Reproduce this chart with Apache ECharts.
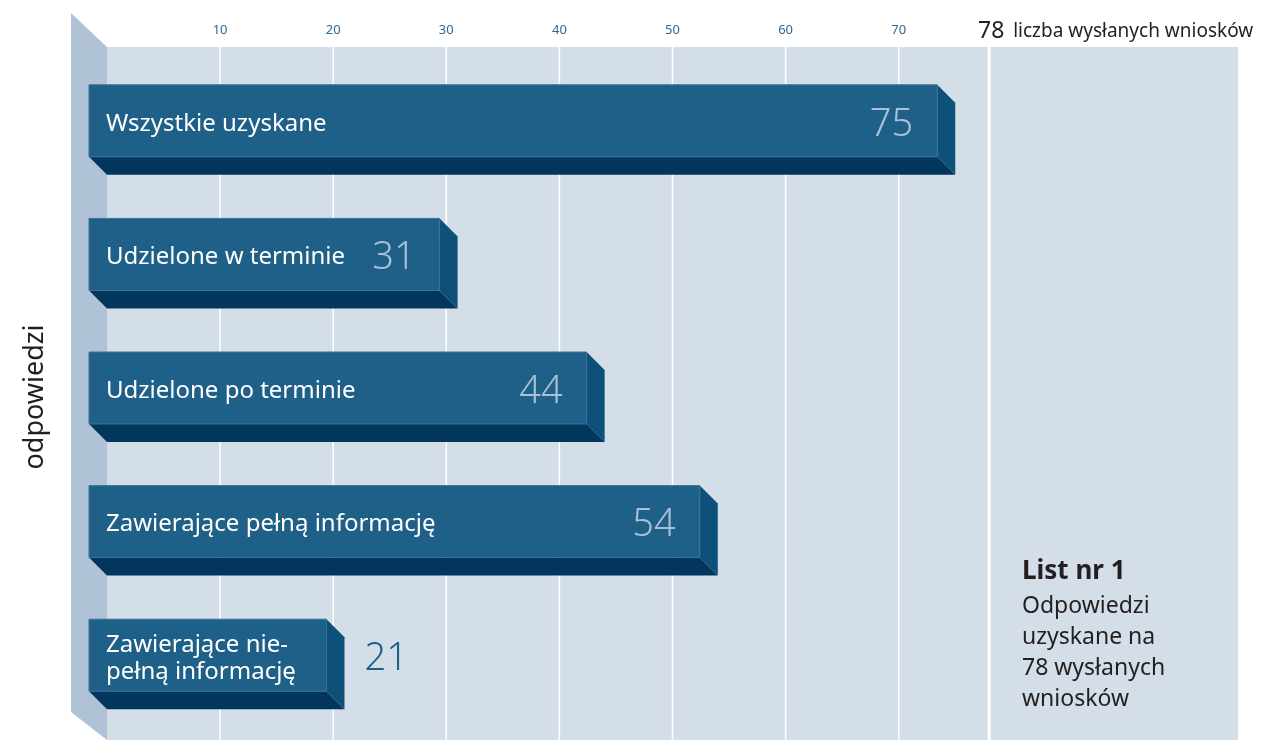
<!DOCTYPE html>
<html lang="pl">
<head>
<meta charset="utf-8">
<title>List nr 1 - odpowiedzi</title>
<script src="https://cdn.jsdelivr.net/npm/echarts@6/dist/echarts.min.js"></script>
<style>
  html,body{margin:0;padding:0;background:#fff;}
  #chart{width:1267px;height:740px;}
</style>
</head>
<body>
<div id="chart"></div>
<script>
(function(){
  // dane
  const CATEGORIES = [
    'Wszystkie uzyskane',
    'Udzielone w terminie',
    'Udzielone po terminie',
    'Zawierające pełną informację',
    'Zawierające nie-\npełną informację'
  ];
  const VALUES = [75, 31, 44, 54, 21];
  const TICKS = [10, 20, 30, 40, 50, 60, 70];
  const TOTAL = 78;
  const AXIS_MAX = 100;
  const TOTAL_LABEL = 'liczba wysłanych wniosków';
  const Y_NAME = 'odpowiedzi';
  const NOTE_TITLE = 'List nr 1';
  const NOTE_LINES = ['Odpowiedzi', 'uzyskane na', '78 wysłanych', 'wniosków'];

  // uklad
  const GRID_LEFT = 107, GRID_RIGHT = 29, GRID_TOP = 47;
  const BARS_TOP = 63, BARS_BOTTOM = 9;
  const DEPTH = 18, FRONT_H = 72;
  const WALL_W = 36;
  const FONT = '"Noto Sans", "DejaVu Sans", sans-serif';

  const C = {
    plot: '#d4dee8',
    wall: '#b0c3d6',
    front: '#1f6088',
    frontEdge: '#3a729a',
    bottom: '#03365d',
    side: '#0d5079',
    valueIn: '#a9c0d6',
    tick: '#2d6a94',
    text: '#231f20'
  };

  const chart = echarts.init(document.getElementById('chart'), null, {renderer: 'canvas'});

  function renderGridLine(params, api){
    const v = api.value(0);
    const p0 = api.coord([v, 0]);
    const p1 = api.coord([v, 1]);
    const isTotal = v === TOTAL;
    const children = [{
      type: 'line',
      shape: {x1: p0[0], y1: p0[1], x2: p1[0], y2: p1[1]},
      style: {stroke: '#ffffff', lineWidth: isTotal ? 3 : 1.5}
    }];
    if(isTotal){
      children.push({
        type: 'text',
        style: {text: String(v), x: p1[0] + 2, y: p1[1] - 16, align: 'center', verticalAlign: 'middle',
          fill: C.text, fontSize: 23, fontFamily: FONT}
      });
      children.push({
        type: 'text',
        style: {text: TOTAL_LABEL, x: p1[0] + 24, y: p1[1] - 15, align: 'left', verticalAlign: 'middle',
          fill: C.text, fontSize: 19, fontFamily: FONT}
      });
    }
    return {type: 'group', children};
  }

  function renderBar(params, api){
    const idx = api.value(1);
    const v = api.value(0);
    const c0 = api.coord([0, idx]);
    const c1 = api.coord([v, idx]);
    const x0 = c0[0], xv = c1[0], cy = c1[1];
    const top = cy - (FRONT_H + DEPTH) / 2;
    const fb = top + FRONT_H;
    const bb = fb + DEPTH;
    const fl = x0 - DEPTH, fr = xv - DEPTH;
    const fy = top + FRONT_H / 2;
    const inside = (fr - fl) > 300;

    return {
      type: 'group',
      children: [
        {type: 'polygon', shape: {points: [[fl, fb], [fr, fb], [xv, bb], [x0, bb]]}, style: {fill: C.bottom}},
        {type: 'polygon', shape: {points: [[fr, top], [xv, top + DEPTH], [xv, bb], [fr, fb]]}, style: {fill: C.side}},
        {type: 'rect', shape: {x: fl, y: top, width: fr - fl, height: FRONT_H},
          style: {fill: C.front, stroke: C.frontEdge, lineWidth: 1}},
        {type: 'text', style: {
          text: CATEGORIES[idx], x: fl + 17, y: fy + 3, align: 'left', verticalAlign: 'middle',
          fill: '#ffffff', fontSize: 24, fontFamily: FONT, lineHeight: 27
        }},
        {type: 'text', style: {
          text: String(v), x: inside ? fr - 24 : xv + 20, y: fy + 4,
          align: inside ? 'right' : 'left', verticalAlign: 'middle',
          fill: inside ? C.valueIn : C.front, fontSize: 38, fontFamily: FONT, fontWeight: 300
        }}
      ]
    };
  }

  const midY = (BARS_TOP + (740 - BARS_BOTTOM)) / 2;

  chart.setOption({
    animation: false,
    grid: [
      {left: GRID_LEFT, right: GRID_RIGHT, top: GRID_TOP, bottom: 0, show: true,
        backgroundColor: C.plot, borderWidth: 0},
      {left: GRID_LEFT, right: GRID_RIGHT, top: BARS_TOP, bottom: BARS_BOTTOM}
    ],
    xAxis: [
      {
        gridIndex: 0, type: 'value', position: 'top', min: 0, max: AXIS_MAX, interval: 10,
        axisLine: {show: false}, axisTick: {show: false}, splitLine: {show: false},
        axisLabel: {
          color: C.tick, fontSize: 13, fontFamily: FONT, margin: 10,
          formatter: v => TICKS.includes(v) ? String(v) : ''
        }
      },
      {gridIndex: 1, type: 'value', min: 0, max: AXIS_MAX, show: false}
    ],
    yAxis: [
      {gridIndex: 0, type: 'value', min: 0, max: 1, show: false},
      {gridIndex: 1, type: 'category', data: CATEGORIES, inverse: true, show: false}
    ],
    graphic: [
      {
        type: 'polygon', z: 1, silent: true,
        shape: {points: [
          [GRID_LEFT - WALL_W, GRID_TOP - 34], [GRID_LEFT, GRID_TOP],
          [GRID_LEFT, 740], [GRID_LEFT - WALL_W, 712]
        ]},
        style: {fill: C.wall}
      },
      {
        type: 'text', x: 35, y: midY, rotation: Math.PI / 2, silent: true,
        style: {text: Y_NAME, align: 'center', verticalAlign: 'middle', fill: C.text,
          fontSize: 27, fontFamily: FONT}
      },
      {
        type: 'text', x: 1022, y: 572, silent: true,
        style: {text: NOTE_TITLE, align: 'left', verticalAlign: 'middle', fill: C.text,
          fontSize: 26, fontWeight: 'bold', fontFamily: FONT}
      },
      {
        type: 'text', x: 1022, y: 591, silent: true,
        style: {text: NOTE_LINES.join('\n'), align: 'left', verticalAlign: 'top', fill: C.text,
          fontSize: 23, lineHeight: 31, fontFamily: FONT}
      }
    ],
    series: [
      {
        type: 'custom', name: 'siatka', xAxisIndex: 0, yAxisIndex: 0, z: 1, silent: true,
        renderItem: renderGridLine,
        data: TICKS.concat([TOTAL]).map(t => [t, 0])
      },
      {
        type: 'custom', name: 'odpowiedzi', xAxisIndex: 1, yAxisIndex: 1, z: 3, silent: true,
        renderItem: renderBar,
        encode: {x: 0, y: 1},
        data: VALUES.map((v, i) => [v, i])
      }
    ]
  });

  window.addEventListener('resize', () => chart && chart.resize());
})();
</script>
</body>
</html>
